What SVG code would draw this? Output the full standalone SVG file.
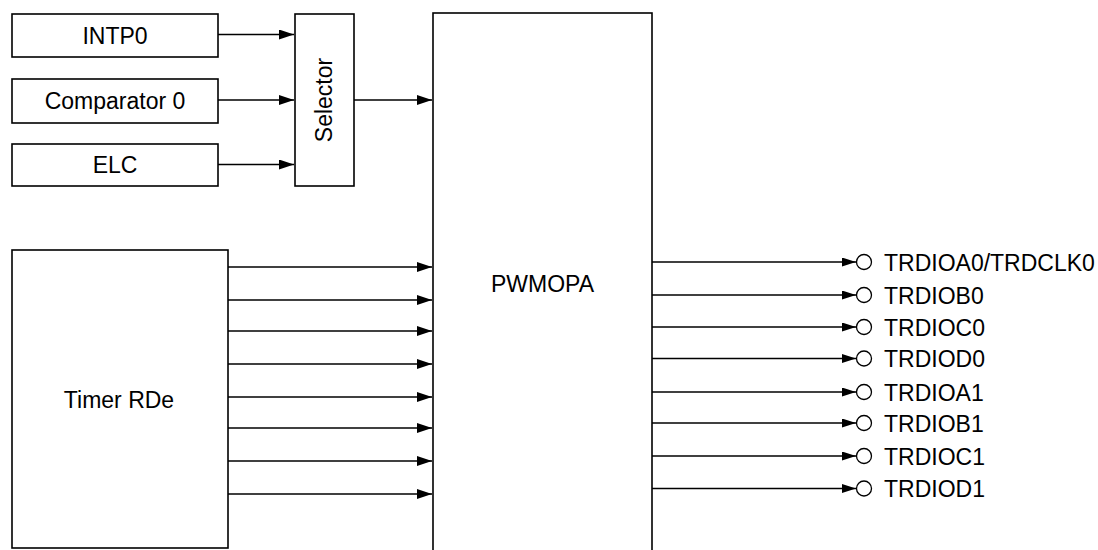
<svg xmlns="http://www.w3.org/2000/svg" width="1098" height="550" viewBox="0 0 1098 550">
<style>
.box{fill:#fff;stroke:#000;stroke-width:1.6}
.ln{fill:none;stroke:#000;stroke-width:1.3}
.t{font-family:"Liberation Sans",Arial,sans-serif;font-size:23px;fill:#000}
.m{text-anchor:middle}
.pin{fill:#fff;stroke:#000;stroke-width:1.3}
</style>
<defs>
<marker id="ah" markerUnits="userSpaceOnUse" markerWidth="15" markerHeight="10" refX="15" refY="5" orient="auto">
<path d="M0,0 L15,5 L0,10 z" fill="#000"/>
</marker>
<marker id="ahs" markerUnits="userSpaceOnUse" markerWidth="14" markerHeight="9" refX="14" refY="4.5" orient="auto">
<path d="M0,0 L14,4.5 L0,9 z" fill="#000"/>
</marker>
</defs>
<g id="intp0"><rect class="box" x="12" y="14" width="206" height="43"/><text class="t m" x="115" y="43.5">INTP0</text></g>
<g id="comparator0"><rect class="box" x="12" y="79" width="206" height="44"/><text class="t m" x="115" y="109">Comparator 0</text></g>
<g id="elc"><rect class="box" x="12" y="144" width="206" height="42"/><text class="t m" x="115" y="173">ELC</text></g>
<g id="selector"><rect class="box" x="295" y="14" width="59" height="172"/><text class="t m" transform="translate(332,100) rotate(-90)" x="0" y="0">Selector</text></g>
<g id="pwmopa"><rect class="box" x="433" y="13" width="219" height="560"/><text class="t m" x="542.5" y="292">PWMOPA</text></g>
<g id="timerrde"><rect class="box" x="12" y="250" width="216" height="298"/><text class="t m" x="119" y="408">Timer RDe</text></g>
<g id="connectors">
<line class="ln" x1="218" y1="34.5" x2="294" y2="34.5" marker-end="url(#ah)"/>
<line class="ln" x1="218" y1="100" x2="294" y2="100" marker-end="url(#ah)"/>
<line class="ln" x1="218" y1="164.5" x2="294" y2="164.5" marker-end="url(#ah)"/>
<line class="ln" x1="354" y1="100" x2="432" y2="100" marker-end="url(#ah)"/>
<line class="ln" x1="228" y1="267" x2="432" y2="267" marker-end="url(#ah)"/>
<line class="ln" x1="228" y1="300" x2="432" y2="300" marker-end="url(#ah)"/>
<line class="ln" x1="228" y1="331" x2="432" y2="331" marker-end="url(#ah)"/>
<line class="ln" x1="228" y1="364" x2="432" y2="364" marker-end="url(#ah)"/>
<line class="ln" x1="228" y1="397" x2="432" y2="397" marker-end="url(#ah)"/>
<line class="ln" x1="228" y1="428" x2="432" y2="428" marker-end="url(#ah)"/>
<line class="ln" x1="228" y1="461" x2="432" y2="461" marker-end="url(#ah)"/>
<line class="ln" x1="228" y1="494" x2="432" y2="494" marker-end="url(#ah)"/>
<line class="ln" x1="652" y1="262" x2="856" y2="262" marker-end="url(#ahs)"/>
<line class="ln" x1="652" y1="295" x2="856" y2="295" marker-end="url(#ahs)"/>
<line class="ln" x1="652" y1="327" x2="856" y2="327" marker-end="url(#ahs)"/>
<line class="ln" x1="652" y1="358.5" x2="856" y2="358.5" marker-end="url(#ahs)"/>
<line class="ln" x1="652" y1="392" x2="856" y2="392" marker-end="url(#ahs)"/>
<line class="ln" x1="652" y1="423" x2="856" y2="423" marker-end="url(#ahs)"/>
<line class="ln" x1="652" y1="456" x2="856" y2="456" marker-end="url(#ahs)"/>
<line class="ln" x1="652" y1="488.5" x2="856" y2="488.5" marker-end="url(#ahs)"/>
</g>
<g id="pins">
<circle class="pin" cx="864" cy="262" r="7.5"/><text class="t" x="884" y="270.5">TRDIOA0/TRDCLK0</text>
<circle class="pin" cx="864" cy="295" r="7.5"/><text class="t" x="884" y="303.5">TRDIOB0</text>
<circle class="pin" cx="864" cy="327" r="7.5"/><text class="t" x="884" y="335.5">TRDIOC0</text>
<circle class="pin" cx="864" cy="358.5" r="7.5"/><text class="t" x="884" y="367">TRDIOD0</text>
<circle class="pin" cx="864" cy="392" r="7.5"/><text class="t" x="884" y="400.5">TRDIOA1</text>
<circle class="pin" cx="864" cy="423" r="7.5"/><text class="t" x="884" y="431.5">TRDIOB1</text>
<circle class="pin" cx="864" cy="456" r="7.5"/><text class="t" x="884" y="464.5">TRDIOC1</text>
<circle class="pin" cx="864" cy="488.5" r="7.5"/><text class="t" x="884" y="497">TRDIOD1</text>
</g>
</svg>
